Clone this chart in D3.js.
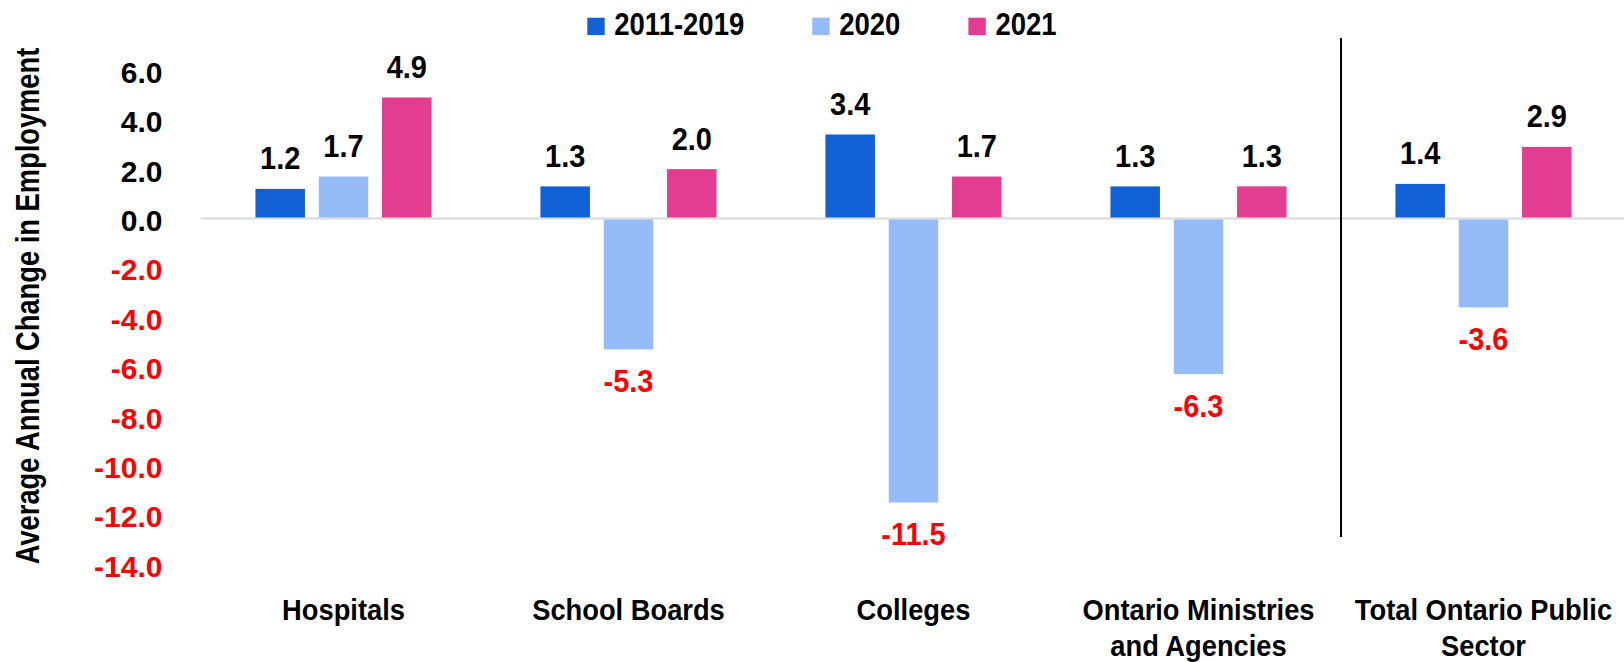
<!DOCTYPE html>
<html>
<head>
<meta charset="utf-8">
<script src="https://cdn.jsdelivr.net/npm/d3@7"></script>
<style>
  html, body { margin: 0; padding: 0; background: #fff; }
  svg { display: block; }
  text { font-family: "Liberation Sans", Arial, sans-serif; font-weight: bold; }
</style>
</head>
<body>
<svg id="chart" width="1624" height="662"></svg>
<script>
// ---- data ----
const categories = ["Hospitals", "School Boards", "Colleges", "Ontario Ministries and Agencies", "Total Ontario Public Sector"];
const categoryLines = [["Hospitals"], ["School Boards"], ["Colleges"], ["Ontario Ministries", "and Agencies"], ["Total Ontario Public", "Sector"]];
const seriesNames = ["2011-2019", "2020", "2021"];
const values2011_2019 = [1.2, 1.3, 3.4, 1.3, 1.4];
const values2020 = [1.7, -5.3, -11.5, -6.3, -3.6];
const values2021 = [4.9, 2.0, 1.7, 1.3, 2.9];
const yTicks = [6, 4, 2, 0, -2, -4, -6, -8, -10, -12, -14];
const yTitle = "Average Annual Change in Employment";
const separatorBefore = "Total Ontario Public Sector";

// ---- styles ----
const colors = { "2011-2019": "#1160D6", "2020": "#95BCF7", "2021": "#E33D92" };
const RED = "#FF0000";
const FONT = '"Liberation Sans", Arial, sans-serif';

const svg = d3.select("#chart");
const seriesValues = [values2011_2019, values2020, values2021];
const rows = [];
categories.forEach((c, i) => {
  seriesNames.forEach((s, j) => rows.push({ cat: c, series: s, value: seriesValues[j][i] }));
});

const x0 = d3.scaleBand().domain(categories).range([201, 1626]).paddingInner(0).paddingOuter(0);
const x1 = d3.scaleBand().domain(seriesNames).range([0, x0.bandwidth()]).paddingInner(0.218).paddingOuter(0.86);
const y = d3.scaleLinear().domain([-14, 6]).range([564.3, 70.3]);

function stretchText(sel, xx, yy, k, rot) {
  sel.attr("x", 0).attr("y", 0)
     .attr("transform", `translate(${xx},${yy})${rot ? ` rotate(${rot})` : ""} scale(1,${k})`);
}

// zero line
svg.append("line")
  .attr("x1", x0.range()[0]).attr("x2", 1624)
  .attr("y1", y(0)).attr("y2", y(0))
  .attr("stroke", "#D9D9D9").attr("stroke-width", 2);

// bars
svg.append("g").selectAll("rect").data(rows).join("rect")
  .attr("x", d => x0(d.cat) + x1(d.series))
  .attr("width", x1.bandwidth())
  .attr("y", d => y(Math.max(0, d.value)) + (d.value >= 0 ? 0 : 1))
  .attr("height", d => Math.abs(y(d.value) - y(0)) - (d.value >= 0 ? 1 : 1))
  .attr("fill", d => colors[d.series]);

// data labels
svg.append("g").selectAll("text").data(rows).join("text")
  .attr("text-anchor", "middle")
  .attr("font-size", 29)
  .attr("fill", d => d.value < 0 ? RED : "#000")
  .text(d => d.value.toFixed(1))
  .each(function(d) {
    const cx = x0(d.cat) + x1(d.series) + x1.bandwidth() / 2;
    const by = d.value >= 0 ? y(d.value) - 19.5 : y(d.value) + 42.5;
    stretchText(d3.select(this), cx, by, 1.1);
  });

// y axis tick labels
svg.append("g").selectAll("text").data(yTicks).join("text")
  .attr("text-anchor", "end")
  .attr("font-size", 30)
  .attr("fill", d => d < 0 ? RED : "#000")
  .attr("x", 162.5)
  .attr("y", d => y(d) + 12.5)
  .text(d => d.toFixed(1));

// y axis title
svg.append("text")
  .attr("text-anchor", "middle")
  .attr("font-size", 27.3)
  .attr("fill", "#000")
  .text(yTitle)
  .call(s => stretchText(s, 39, 306, 1.2, -90));

// category labels
categories.forEach((c, i) => {
  categoryLines[i].forEach((line, li) => {
    svg.append("text")
      .attr("text-anchor", "middle")
      .attr("font-size", 27.3)
      .attr("fill", "#000")
      .text(line)
      .call(s => stretchText(s, x0(c) + x0.bandwidth() / 2, 620 + li * 36, 1.06));
  });
});

// separator line
const sepX = x0(separatorBefore);
svg.append("line")
  .attr("x1", sepX).attr("x2", sepX)
  .attr("y1", 38).attr("y2", 537)
  .attr("stroke", "#000").attr("stroke-width", 2);

// legend
const legend = svg.append("g");
let lx = 587.3;
seriesNames.forEach(s => {
  legend.append("rect")
    .attr("x", lx).attr("y", 17.7).attr("width", 17.4).attr("height", 17.4)
    .attr("fill", colors[s]);
  const t = legend.append("text")
    .attr("font-size", 27.5)
    .attr("fill", "#000")
    .text(s)
    .call(sel => stretchText(sel, lx + 27, 35, 1.13));
  const w = t.node().getComputedTextLength();
  lx = lx + 27 + w + 68;
});
</script>
</body>
</html>
